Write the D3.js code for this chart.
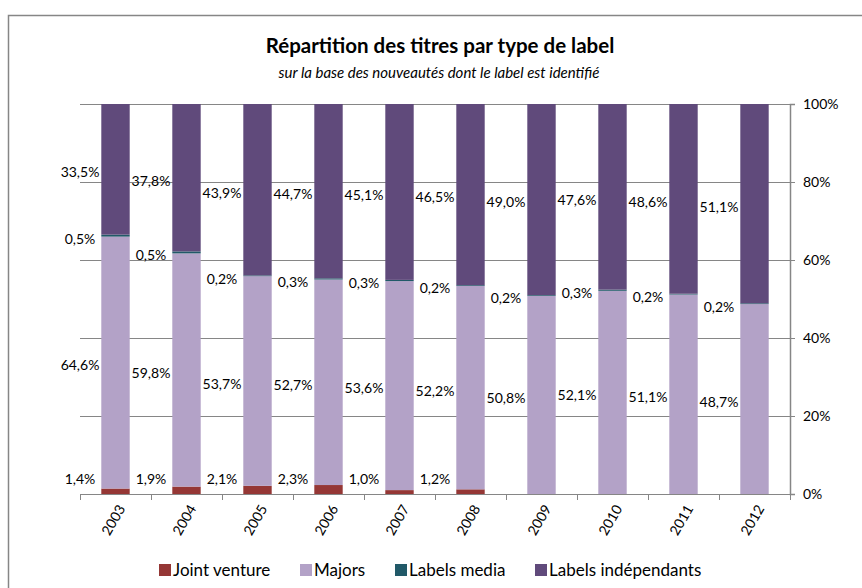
<!DOCTYPE html>
<html>
<head>
<meta charset="utf-8">
<script src="https://cdn.jsdelivr.net/npm/d3@7"></script>
<style>
  body { margin: 0; background: #fff; }
  svg { display: block; font-family: Lato, "Open Sans", sans-serif; }
</style>
</head>
<body>
<div id="chart"></div>
<script>
// data (percent of titles)
var years = ['2003', '2004', '2005', '2006', '2007', '2008', '2009', '2010', '2011', '2012'];
var jointVenture = [1.4, 1.9, 2.1, 2.3, 1.0, 1.2, 0, 0, 0, 0];
var majors = [64.6, 59.8, 53.7, 52.7, 53.6, 52.2, 50.8, 52.1, 51.1, 48.7];
var labelsMedia = [0.5, 0.5, 0.2, 0.3, 0.3, 0.2, 0.2, 0.3, 0.2, 0.2];
var independants = [33.5, 37.8, 43.9, 44.7, 45.1, 46.5, 49.0, 47.6, 48.6, 51.1];

var seriesNames = ['Joint venture', 'Majors', 'Labels media', 'Labels indépendants'];
var yTicks = [0, 0.2, 0.4, 0.6, 0.8, 1];

var colors = ['#953735', '#b3a2c7', '#215968', '#604a7b'];
var gridColor = '#868686';

var W = 862, H = 588;
var margin = {top: 104, right: 72, bottom: 94, left: 80},
    width = W - margin.left - margin.right,
    height = H - margin.top - margin.bottom;

var font_size_title = 20.5;
var font_size_sub = 15;
var font_size_label = 14;
var font_size_tick = 14;
var font_size_legend = 17;

var rows = years.map(function(y, i) {
  return {year: y, 'Joint venture': jointVenture[i], 'Majors': majors[i],
          'Labels media': labelsMedia[i], 'Labels indépendants': independants[i]};
});

var svg = d3.select('#chart').append('svg')
    .attr('width', W)
    .attr('height', H);

// outer chart border (runs off the right and bottom of the picture)
svg.append('rect')
    .attr('x', 8.5).attr('y', 15.5)
    .attr('width', W).attr('height', H)
    .attr('fill', 'none')
    .attr('stroke', gridColor)
    .attr('stroke-width', 1.5);

// title
svg.append('text')
    .attr('x', 440).attr('y', 53)
    .attr('text-anchor', 'middle')
    .attr('font-size', font_size_title)
    .attr('font-weight', 'bold')
    .attr('fill', '#000')
    .text('Répartition des titres par type de label');

svg.append('text')
    .attr('x', 439).attr('y', 78)
    .attr('text-anchor', 'middle')
    .attr('font-size', font_size_sub)
    .attr('font-style', 'italic')
    .attr('fill', '#000')
    .text('sur la base des nouveautés dont le label est identifié');

var g = svg.append('g')
    .attr('transform', 'translate(' + margin.left + ',' + margin.top + ')');

var x = d3.scaleBand()
    .domain(years)
    .range([0, width])
    .paddingInner(0.6)
    .paddingOuter(0.3);

var y = d3.scaleLinear()
    .domain([0, 1])
    .range([height, 0]);

// gridlines
g.append('g')
  .selectAll('line')
  .data(yTicks)
  .enter().append('line')
    .attr('x1', 0).attr('x2', width)
    .attr('y1', function(d) { return Math.round(y(d)) + 0.5; })
    .attr('y2', function(d) { return Math.round(y(d)) + 0.5; })
    .attr('stroke', gridColor)
    .attr('stroke-width', 1);

// stacked bars, 100% normalised
var stack = d3.stack()
    .keys(seriesNames)
    .offset(d3.stackOffsetExpand);
var layers = stack(rows);

g.selectAll('.layer')
  .data(layers)
  .enter().append('g')
    .attr('class', 'layer')
    .attr('fill', function(d, i) { return colors[i]; })
  .selectAll('rect')
  .data(function(d) { return d; })
  .enter().append('rect')
    .attr('x', function(d) { return x(d.data.year); })
    .attr('width', x.bandwidth())
    .attr('y', function(d) { return y(d[1]); })
    .attr('height', function(d) { return y(d[0]) - y(d[1]); });

// x axis: ticks at the category boundaries
var step = x.step();
var xAxis = g.append('g')
    .attr('transform', 'translate(0,' + height + ')');
xAxis.append('line')
    .attr('x1', 0).attr('x2', width)
    .attr('y1', 0.5).attr('y2', 0.5)
    .attr('stroke', gridColor);
xAxis.selectAll('.xtick')
  .data(d3.range(years.length + 1))
  .enter().append('line')
    .attr('x1', function(i) { return Math.round(i * step) + 0.5; })
    .attr('x2', function(i) { return Math.round(i * step) + 0.5; })
    .attr('y1', 0).attr('y2', 6)
    .attr('stroke', gridColor);
xAxis.selectAll('.xlabel')
  .data(years)
  .enter().append('text')
    .attr('text-anchor', 'end')
    .attr('font-size', font_size_tick)
    .attr('fill', '#000')
    .attr('transform', function(d) {
      return 'translate(' + (x(d) + x.bandwidth() / 2 + 6) + ',' + 12 + ') rotate(-60)';
    })
    .attr('dy', '0.35em')
    .text(function(d) { return d; });

// right y axis
var yAxis = g.append('g')
    .attr('transform', 'translate(' + width + ',0)')
    .call(d3.axisRight(y).tickValues(yTicks).tickFormat(d3.format('.0%')).tickSize(5).tickPadding(8));
yAxis.select('.domain').attr('stroke', gridColor).attr('stroke-width', 1.5);
yAxis.selectAll('.tick line').attr('stroke', gridColor);
yAxis.selectAll('.tick text')
    .attr('font-size', font_size_tick)
    .attr('font-family', 'Lato, sans-serif')
    .attr('fill', '#000');

// data labels, centred on the band boundary left of each bar
var fmt = function(v) { return v.toFixed(1).replace('.', ',') + '%'; };
layers.forEach(function(layer, li) {
  g.append('g').selectAll('text')
    .data(layer.filter(function(d) { return d.data[seriesNames[li]] > 0; }))
    .enter().append('text')
      .attr('x', function(d) { return x(d.data.year) - (step - x.bandwidth()) / 2; })
      .attr('y', function(d) {
        var c = (y(d[0]) + y(d[1])) / 2;
        return Math.min(c + 3, height - 15);
      })
      .attr('dy', '0.35em')
      .attr('text-anchor', 'middle')
      .attr('font-size', font_size_label)
      .attr('fill', '#000')
      .text(function(d) { return fmt(d.data[seriesNames[li]]); });
});

// legend
var legendX = [159, 300, 395, 535];
var legend = svg.append('g').selectAll('.lg')
  .data(seriesNames)
  .enter().append('g')
    .attr('transform', function(d, i) { return 'translate(' + legendX[i] + ',564)'; });
legend.append('rect')
    .attr('width', 12).attr('height', 12)
    .attr('fill', function(d, i) { return colors[i]; });
legend.append('text')
    .attr('x', 14).attr('y', 6)
    .attr('dy', '0.35em')
    .attr('font-size', font_size_legend)
    .attr('fill', '#000')
    .text(function(d) { return d; });
</script>
</body>
</html>
